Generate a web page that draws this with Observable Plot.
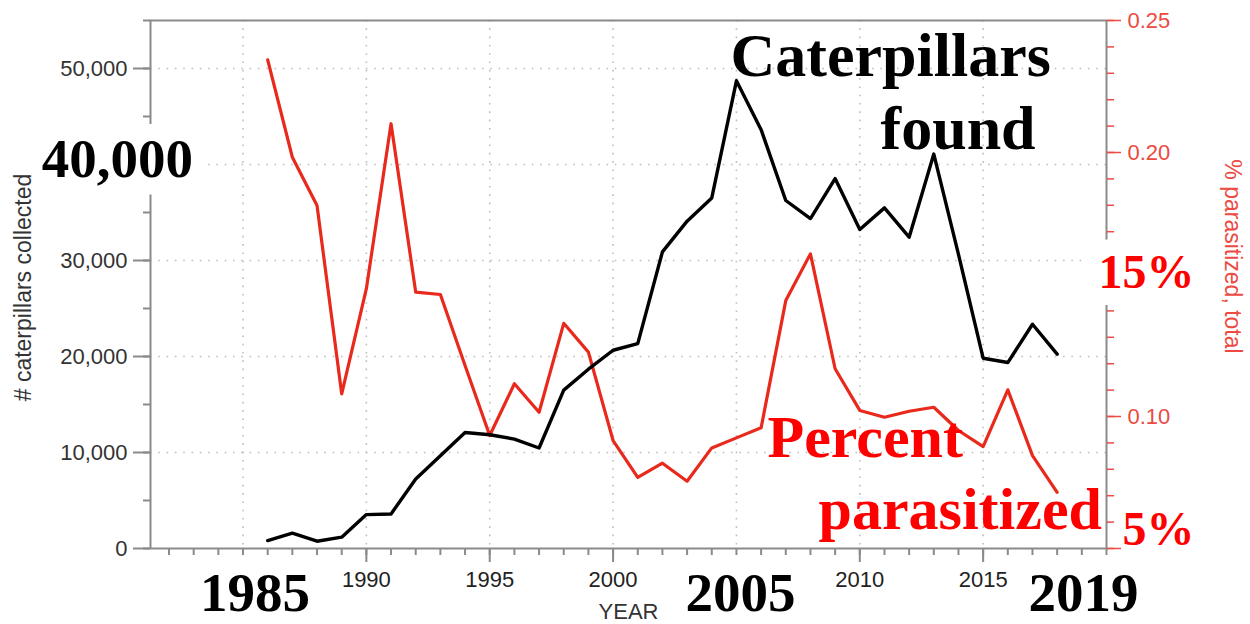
<!DOCTYPE html>
<html>
<head>
<meta charset="utf-8">
<script src="https://cdn.jsdelivr.net/npm/d3@7"></script>
<script src="https://cdn.jsdelivr.net/npm/@observablehq/plot@0.6"></script>
<style>
  html, body { margin: 0; padding: 0; background: #fff; }
</style>
</head>
<body>
<div id="chart"></div>
<script>
// ---- data ----
const years = [1986, 1987, 1988, 1989, 1990, 1991, 1992, 1993, 1994, 1995, 1996,
  1997, 1998, 1999, 2000, 2001, 2002, 2003, 2004, 2005, 2006, 2007, 2008, 2009,
  2010, 2011, 2012, 2013, 2014, 2015, 2016, 2017, 2018];
const caterpillars = [830, 1590, 760, 1180, 3530, 3600, 7240, 9670, 12090, 11850,
  11400, 10470, 16500, 18680, 20650, 21340, 30900, 34100, 36520, 48720, 43630,
  36250, 34370, 38530, 33230, 35480, 32430, 41090, 30630, 19820, 19370, 23360, 20240];
const parasitized = [0.2351, 0.1982, 0.1799, 0.1086, 0.1484, 0.2109, 0.1471, 0.1462,
  0.1193, 0.0928, 0.1124, 0.1016, 0.1353, 0.1244, 0.0909, 0.0769, 0.0823, 0.0755,
  0.0881, 0.0919, 0.0957, 0.1439, 0.1616, 0.1181, 0.1023, 0.0997, 0.1020, 0.1035,
  0.0947, 0.0886, 0.1101, 0.0852, 0.0713];
const countTicks = [0, 10000, 20000, 30000, 50000];
const countGrid = [10000, 20000, 30000, 40000, 50000];
const yearTicks = [1990, 1995, 2000, 2010, 2015];
const yearGrid = [1985, 1990, 1995, 2000, 2005, 2010, 2015];
const fracTicks = [0.10, 0.20, 0.25];
const fracHiddenTicks = [0.05, 0.15];

// ---- helpers ----
const pScale = d3.scaleLinear([0.05, 0.25], [0, 55000]); // right axis -> left axis units
const data = years.map((year, i) => ({year, count: caterpillars[i], frac: parasitized[i]}));

const gray = "#8a8a8a";
const redAxis = "#ec4a42";
const redLine = "#e8291c";
const redText = "#ff0000";
const serif = "Liberation Serif, 'Times New Roman', serif";
const gridStyle = {stroke: "#bdbdbd", strokeOpacity: 1, strokeWidth: 1.6, strokeDasharray: "1.6,6.7"};

const chart = Plot.plot({
  width: 1250,
  height: 624,
  marginLeft: 150,
  marginRight: 144,
  marginTop: 20,
  marginBottom: 76,
  style: {fontFamily: "'Liberation Sans', Arial, sans-serif", fontSize: "22px", background: "#fff", color: "#333"},
  x: {domain: [1981.25, 2020]},
  y: {domain: [0, 55000]},
  marks: [
    Plot.gridY(countGrid, gridStyle),
    Plot.gridX(yearGrid, gridStyle),
    Plot.frame({stroke: gray, strokeWidth: 2}),
    // left axis
    Plot.axisY(d3.range(0, 55001, 5000), {tickSize: 7, stroke: gray, strokeWidth: 2, fill: "none", label: null}),
    Plot.axisY(countTicks, {tickSize: 17, tickPadding: 6, stroke: gray, strokeWidth: 2, fill: "#333",
      fontSize: 22, tickFormat: d3.format(","), label: null}),
    // right axis (percent parasitized)
    Plot.axisY(d3.range(0.05, 0.2501, 0.01).map(pScale), {anchor: "right", tickSize: 7, stroke: redAxis,
      strokeWidth: 1.5, fill: "none", label: null}),
    Plot.axisY(fracHiddenTicks.map(pScale), {anchor: "right", tickSize: 14, stroke: redAxis,
      strokeWidth: 1.5, fill: "none", label: null}),
    Plot.axisY(fracTicks.map(pScale), {anchor: "right", tickSize: 14, tickPadding: 7, stroke: redAxis,
      strokeWidth: 1.5, fill: redAxis, fontSize: 22, tickFormat: d => pScale.invert(d).toFixed(2), label: null}),
    // bottom axis
    Plot.axisX(d3.range(1982, 2021), {tickSize: 7, stroke: gray, strokeWidth: 2, fill: "none", label: null}),
    Plot.axisX(yearTicks, {tickSize: 14, tickPadding: 9, stroke: gray, strokeWidth: 2, fill: "#222",
      fontSize: 22, tickFormat: d => String(d), label: null}),
    // series
    Plot.line(data, {x: "year", y: d => pScale(d.frac), stroke: redLine, strokeWidth: 3.2}),
    Plot.line(data, {x: "year", y: "count", stroke: "#000", strokeWidth: 3.4}),
    // big overlay annotations
    Plot.text(["40,000"], {text: d => d, x: 1979.91, y: 40500, fontSize: 55, fontFamily: serif, fontWeight: "bold",
      fill: "#000", stroke: "#fff", strokeWidth: 34, strokeLinejoin: "round", paintOrder: "stroke"}),
    Plot.text(["15%"], {text: d => d, x: 2019.68, y: 28690, textAnchor: "start", fontSize: 48, fontFamily: serif,
      fontWeight: "bold", fill: redText, stroke: "#fff", strokeWidth: 34, strokeLinejoin: "round", paintOrder: "stroke"}),
    Plot.text(["5%"], {text: d => d, x: 2020.65, y: 1920, textAnchor: "start", fontSize: 48, fontFamily: serif,
      fontWeight: "bold", fill: redText}),
    Plot.text(["Caterpillars"], {text: d => d, x: 2004.76, y: 51330, textAnchor: "start", fontSize: 62,
      fontFamily: serif, fontWeight: "bold", fill: "#000"}),
    Plot.text(["found"], {text: d => d, x: 2010.84, y: 43730, textAnchor: "start", fontSize: 62,
      fontFamily: serif, fontWeight: "bold", fill: "#000"}),
    Plot.text(["Percent"], {text: d => d, x: 2006.26, y: 11480, textAnchor: "start", fontSize: 60,
      fontFamily: serif, fontWeight: "bold", fill: redText}),
    Plot.text(["parasitized"], {text: d => d, x: 2008.33, y: 4080, textAnchor: "start", fontSize: 60,
      fontFamily: serif, fontWeight: "bold", fill: redText}),
    Plot.text(["1985"], {text: d => d, x: 1985.49, y: -4625, fontSize: 55, fontFamily: serif, fontWeight: "bold", fill: "#000"}),
    Plot.text(["2005"], {text: d => d, x: 2005.16, y: -4625, fontSize: 55, fontFamily: serif, fontWeight: "bold", fill: "#000"}),
    Plot.text(["2019"], {text: d => d, x: 2019.07, y: -4625, fontSize: 55, fontFamily: serif, fontWeight: "bold", fill: "#000"}),
    // axis titles
    Plot.text(["YEAR"], {text: d => d, frameAnchor: "bottom", lineAnchor: "middle", dy: 63, fontSize: 22, fill: "#333"}),
    Plot.text(["# caterpillars collected"], {text: d => d, frameAnchor: "left", textAnchor: "middle", lineAnchor: "middle",
      rotate: -90, dx: -127, dy: 3, fontSize: 23, fill: "#333"}),
    Plot.text(["% parasitized, total"], {text: d => d, frameAnchor: "right", textAnchor: "middle", lineAnchor: "middle",
      rotate: 90, dx: 126, dy: -28, fontSize: 23, fill: redAxis})
  ]
});

document.getElementById("chart").appendChild(chart);
</script>
</body>
</html>
